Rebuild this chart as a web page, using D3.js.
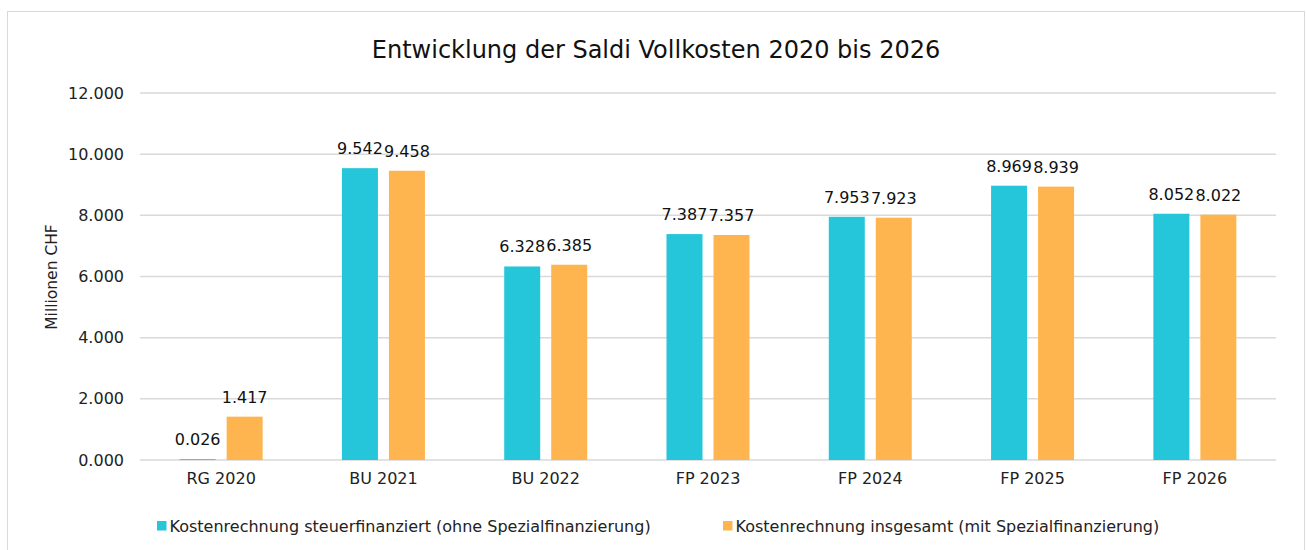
<!DOCTYPE html>
<html>
<head>
<meta charset="utf-8">
<style>
body { margin: 0; background: #fff; }
svg { font-family: "DejaVu Sans", Verdana, sans-serif; }
.grid line { stroke: #d9d9d9; stroke-width: 1.5; }
.axis path, .axis line { display: none; }
</style>
</head>
<body>
<svg id="chart" width="1306" height="550"></svg>
<script src="https://d3js.org/d3.v7.min.js"></script>
<script>
let categories = ["RG 2020", "BU 2021", "BU 2022", "FP 2023", "FP 2024", "FP 2025", "FP 2026"];
let steuerfinanziert = [0.026, 9.542, 6.328, 7.387, 7.953, 8.969, 8.052];
let insgesamt = [1.417, 9.458, 6.385, 7.357, 7.923, 8.939, 8.022];
let seriesNames = ["Kostenrechnung steuerfinanziert (ohne Spezialfinanzierung)", "Kostenrechnung insgesamt (mit Spezialfinanzierung)"];
let yTicks = [0, 2, 4, 6, 8, 10, 12];
let colors = ["#26c6da", "#ffb54f"];

let svg = d3.select("#chart");
let fmt = d3.format(".3f");
let fontFam = "'DejaVu Sans', Verdana, sans-serif";

// frame
svg.append("rect")
    .attr("x", 7.5).attr("y", 11.5)
    .attr("width", 1297).attr("height", 545)
    .attr("fill", "#fff").attr("stroke", "#d9d9d9").attr("stroke-width", 1);

let x0 = 140, x1 = 1276, yTop = 93, yBot = 460;

let xScale = d3.scaleBand().domain(categories).range([x0, x1]);
let yScale = d3.scaleLinear().domain([0, 12]).range([yBot, yTop]);

// title
svg.append("text")
    .attr("x", 656).attr("y", 58)
    .attr("text-anchor", "middle")
    .attr("font-size", 24).attr("fill", "#111")
    .text("Entwicklung der Saldi Vollkosten 2020 bis 2026");

// gridlines
svg.append("g").attr("class", "grid")
    .selectAll("line").data(yTicks).join("line")
    .attr("x1", x0).attr("x2", x1)
    .attr("y1", d => yScale(d)).attr("y2", d => yScale(d));

// y axis
svg.append("g").attr("class", "axis")
    .attr("transform", "translate(" + (x0 - 16) + ",0)")
    .call(d3.axisLeft(yScale).tickValues(yTicks).tickFormat(fmt).tickSize(0).tickPadding(0))
    .attr("font-family", fontFam).attr("font-size", 16)
    .selectAll("text").attr("fill", "#222");

// x axis
svg.append("g").attr("class", "axis")
    .attr("transform", "translate(0," + yBot + ")")
    .call(d3.axisBottom(xScale).tickSize(0).tickPadding(13))
    .attr("font-family", fontFam).attr("font-size", 16)
    .selectAll("text").attr("fill", "#222");

// y title
svg.append("text")
    .attr("transform", "translate(57,277) rotate(-90)")
    .attr("text-anchor", "middle")
    .attr("font-size", 15.5).attr("fill", "#222")
    .text("Millionen CHF");

let series = [steuerfinanziert, insgesamt];
let barW = 36, gap = 5.5;

series.forEach(function(vals, i) {
    let off = i === 0 ? -gap - barW : gap;
    let g = svg.append("g");
    g.selectAll("rect").data(vals).join("rect")
        .attr("x", (d, j) => xScale(categories[j]) + xScale.bandwidth() / 2 + off)
        .attr("y", d => yScale(d))
        .attr("width", barW)
        .attr("height", d => yBot - yScale(d))
        .attr("fill", colors[i]);
    g.selectAll("text").data(vals).join("text")
        .attr("x", (d, j) => xScale(categories[j]) + xScale.bandwidth() / 2 + off + barW / 2)
        .attr("y", d => yScale(d) - 14)
        .attr("text-anchor", "middle")
        .attr("font-size", 16).attr("fill", "#111")
        .text(d => fmt(d));
});

// legend
let legendX = [157, 723];
seriesNames.forEach(function(name, i) {
    svg.append("rect")
        .attr("x", legendX[i]).attr("y", 521)
        .attr("width", 9.5).attr("height", 9.5)
        .attr("fill", colors[i]);
    svg.append("text")
        .attr("x", legendX[i] + 12.5).attr("y", 532)
        .attr("font-size", 16).attr("fill", "#222")
        .text(name);
});
</script>
</body>
</html>
